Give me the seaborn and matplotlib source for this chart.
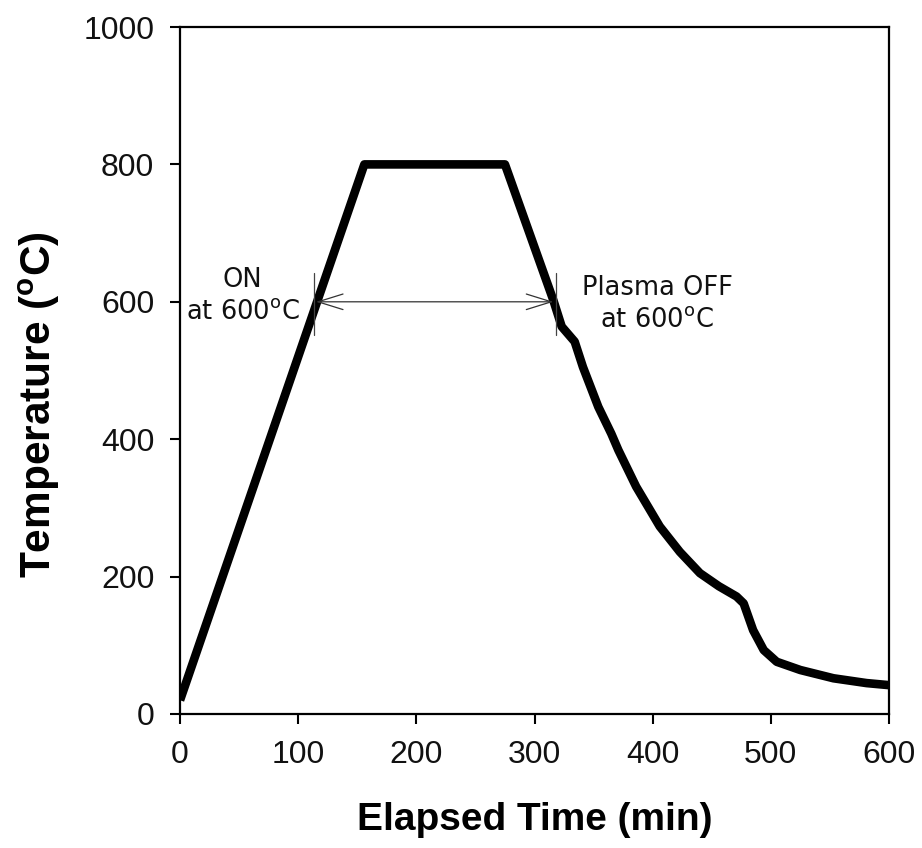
import matplotlib
matplotlib.use("Agg")
import matplotlib.pyplot as plt
import seaborn as sns
import pandas as pd

# Furnace temperature profile: elapsed time (min) vs temperature (degC)
time_min = [0, 156, 275, 316, 323, 334, 341, 354, 365, 371, 386, 406, 423,
            440, 456, 471, 477, 485, 494, 505, 525, 553, 581, 600]
temp_c = [20, 800, 800, 602, 564, 542, 505, 447, 408, 384, 331, 273, 236,
          205, 186, 171, 161, 122, 93, 76, 64, 52, 45, 42]

x_ticks = [0, 100, 200, 300, 400, 500, 600]
y_ticks = [0, 200, 400, 600, 800, 1000]

# Plasma on/off window at 600 degC
plasma_on_t = 115
plasma_off_t = 316
plasma_temp = 600
marker_on_t = 113
marker_off_t = 318
marker_span = (552, 642)

sns.set_style("ticks")
plt.rcParams["font.family"] = ["Liberation Sans", "DejaVu Sans"]
plt.rcParams["mathtext.fontset"] = "custom"
plt.rcParams["mathtext.rm"] = "Liberation Sans"
plt.rcParams["mathtext.bf"] = "Liberation Sans:bold"
plt.rcParams["text.color"] = "black"
plt.rcParams["axes.labelcolor"] = "black"

df = pd.DataFrame({"time": time_min, "temp": temp_c})

fig = plt.figure(figsize=(9.22, 8.48), dpi=100)
ax = fig.add_axes([0.19523, 0.15802, 0.76898, 0.81014])

sns.lineplot(data=df, x="time", y="temp", ax=ax, color="black",
             linewidth=6.2, estimator=None, sort=False,
             solid_joinstyle="round", solid_capstyle="butt")

ax.set_xlim(0, 600)
ax.set_ylim(0, 1000)
ax.set_xticks(x_ticks)
ax.set_yticks(y_ticks)
ax.tick_params(axis="both", direction="out", length=7.5, width=1.5,
               pad=11, labelsize=23, colors="black")
for lbl in ax.get_xticklabels() + ax.get_yticklabels():
    lbl.set_color("#111111")

for side in ["left", "right", "top", "bottom"]:
    ax.spines[side].set_visible(True)
    ax.spines[side].set_linewidth(1.6)
    ax.spines[side].set_color("black")

ax.set_xlabel("Elapsed Time (min)", fontsize=28, fontweight="bold")
ax.set_ylabel(r"Temperature ($^{\bf o}$C)", fontsize=30.5, fontweight="bold")
ax.xaxis.set_label_coords(0.5, -0.128)
ax.yaxis.set_label_coords(-0.166, 0.451)

# Double-headed arrow spanning the plasma window
ax.annotate("", xy=(plasma_on_t, plasma_temp), xytext=(plasma_off_t, plasma_temp),
            arrowprops=dict(arrowstyle="<->,head_length=0.9,head_width=0.28",
                            lw=0.9, color="#333333", mutation_scale=20,
                            shrinkA=0, shrinkB=0))
for t in (marker_on_t, marker_off_t):
    ax.plot([t, t], list(marker_span), color="#444444", lw=0.9)

ann_style = dict(fontsize=18.5, family="DejaVu Sans", ha="center", va="center",
                 linespacing=1.3, color="#111111", math_fontfamily="dejavusans")
ax.text(53, 608, "ON\nat 600$^{\\rm o}$C", **ann_style)
ax.text(404, 597, "Plasma OFF\nat 600$^{\\rm o}$C", **ann_style)

fig.savefig("out.png", dpi=100, facecolor="white")
